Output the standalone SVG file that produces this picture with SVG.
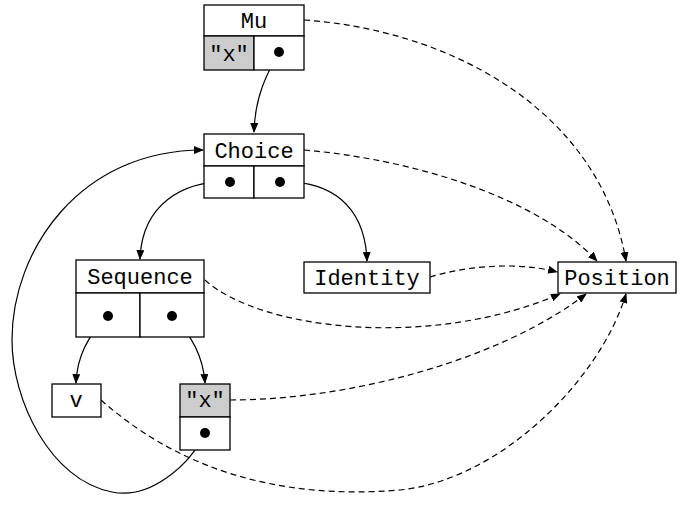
<svg xmlns="http://www.w3.org/2000/svg" width="680" height="520" viewBox="0 0 680 520">
<style>
.b{fill:#fff;stroke:#000;stroke-width:1.3}
.g{fill:#cccccc;stroke:#000;stroke-width:1.3}
.t{font-family:"Liberation Mono","DejaVu Sans Mono",monospace;font-size:22px;text-anchor:middle;fill:#000}
.e{fill:none;stroke:#000;stroke-width:1.2}
.d{fill:none;stroke:#000;stroke-width:1.2;stroke-dasharray:6 4}
.dot{fill:#000}
</style>
<defs>
<marker id="a" markerWidth="10" markerHeight="8" refX="9" refY="4" orient="auto" markerUnits="userSpaceOnUse">
<path d="M0,0 L10,4 L0,8 z" fill="#000"/>
</marker>
</defs>
<g id="connectors">
<path class="e" d="M279,52 C268,72 255,95 254,132" marker-end="url(#a)"/>
<path class="e" d="M230,182 C182,180 142,205 140,259" marker-end="url(#a)"/>
<path class="e" d="M280,182 C330,180 365,205 367,261" marker-end="url(#a)"/>
<path class="e" d="M108,316 C90,333 77,355 76,383" marker-end="url(#a)"/>
<path class="e" d="M172,316 C190,333 203,355 205,383" marker-end="url(#a)"/>
<path class="e" d="M205,433 C190,465 150,500 112,492 C50,480 12,400 12,340 C12,250 80,150 203,150" marker-end="url(#a)"/>
<path class="d" d="M304,20 C450,30 600,110 626,261" marker-end="url(#a)"/>
<path class="d" d="M304,150 C420,160 540,200 597,261" marker-end="url(#a)"/>
<path class="d" d="M430,277 C470,265 520,262 557,272" marker-end="url(#a)"/>
<path class="d" d="M205,280 C260,330 430,350 560,294" marker-end="url(#a)"/>
<path class="d" d="M230,400 C350,400 500,360 586,294" marker-end="url(#a)"/>
<path class="d" d="M101,400 C180,470 280,500 400,490 C500,480 600,380 626,294" marker-end="url(#a)"/>
</g>
<g id="mu">
<rect class="b" x="204" y="5" width="100" height="31"/>
<rect class="g" x="204" y="36" width="50" height="34"/>
<rect class="b" x="254" y="36" width="50" height="34"/>
<text class="t" x="254" y="28">Mu</text>
<text class="t" x="229" y="61">"x"</text>
<circle class="dot" cx="279" cy="52" r="5"/>
</g>
<g id="choice">
<rect class="b" x="204" y="134" width="100" height="32"/>
<rect class="b" x="204" y="166" width="50" height="32"/>
<rect class="b" x="254" y="166" width="50" height="32"/>
<text class="t" x="254" y="158">Choice</text>
<circle class="dot" cx="230" cy="182" r="5"/>
<circle class="dot" cx="280" cy="182" r="5"/>
</g>
<g id="sequence">
<rect class="b" x="76" y="260" width="128" height="33"/>
<rect class="b" x="76" y="293" width="64" height="44"/>
<rect class="b" x="140" y="293" width="64" height="44"/>
<text class="t" x="140" y="284">Sequence</text>
<circle class="dot" cx="108" cy="316" r="5"/>
<circle class="dot" cx="172" cy="316" r="5"/>
</g>
<g id="identity">
<rect class="b" x="304" y="262" width="126" height="31"/>
<text class="t" x="367" y="285">Identity</text>
</g>
<g id="position">
<rect class="b" x="558" y="262" width="118" height="31"/>
<text class="t" x="617" y="285">Position</text>
</g>
<g id="v">
<rect class="b" x="52" y="384" width="49" height="33"/>
<text class="t" x="76" y="407">v</text>
</g>
<g id="x">
<rect class="g" x="180" y="384" width="50" height="33"/>
<rect class="b" x="180" y="417" width="50" height="33"/>
<text class="t" x="205" y="407">"x"</text>
<circle class="dot" cx="205" cy="433" r="5"/>
</g>
</svg>
